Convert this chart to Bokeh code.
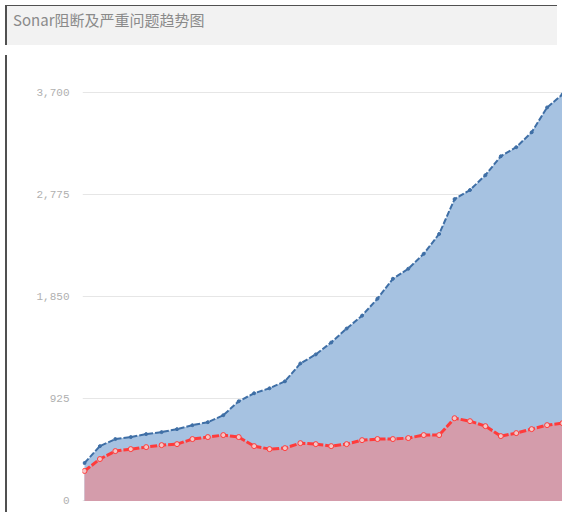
from bokeh.plotting import figure
from bokeh.models import Div, FixedTicker
from bokeh.layouts import column, row
from bokeh.embed import file_html
from bokeh.resources import INLINE

# ---- data ----
periods = list(range(32))
series_blue = [343, 496, 560, 578, 605, 623, 650, 686, 713, 776,
               902, 975, 1020, 1083, 1245, 1327, 1435, 1561, 1678, 1832,
               2012, 2103, 2238, 2418, 2734, 2816, 2951, 3122, 3204, 3339,
               3564, 3682]
series_red = [271, 379, 451, 469, 487, 505, 514, 560, 578, 596,
              578, 496, 469, 478, 523, 514, 496, 514, 550, 560,
              560, 569, 596, 596, 749, 722, 677, 587, 614, 650,
              686, 704]
y_ticks = [0, 925, 1850, 2775, 3700]
y_tick_labels = ["0", "925", "1,850", "2,775", "3,700"]
title_text = "Sonar阻断及严重问题趋势图"

title_bar = Div(
    text=title_text, width=552, height=40,
    styles={
        "background-color": "#f2f2f2",
        "color": "#8a8a8a",
        "font-size": "15px",
        "font-family": "Noto Sans CJK SC",
        "padding-left": "6px",
        "padding-top": "4px",
        "line-height": "20px",
        "box-sizing": "border-box",
        "border-top": "1px solid #505050",
        "border-left": "2px solid #505050",
    },
)

edge = Div(text="", width=2, height=457,
           styles={"background-color": "#505050"})

p = figure(width=550, height=457, x_range=(-0.13, 31.0), y_range=(-60, 4080),
           output_backend="svg", toolbar_location=None,
           min_border_left=70, min_border_right=0, min_border_top=0,
           min_border_bottom=0)
p.outline_line_color = None
p.xaxis.visible = False
p.xgrid.visible = False
p.ygrid.grid_line_color = "#e6e6e6"
p.ygrid.grid_line_width = 1
p.yaxis.ticker = FixedTicker(ticks=y_ticks)
p.yaxis.major_label_overrides = {t: l for t, l in zip(y_ticks, y_tick_labels)}
p.yaxis.axis_line_color = None
p.yaxis.major_tick_line_color = None
p.yaxis.minor_tick_line_color = None
p.yaxis.major_tick_out = 0
p.yaxis.major_tick_in = 0
p.yaxis.major_label_standoff = 13
p.yaxis.major_label_text_color = "#b0b0b0"
p.yaxis.major_label_text_font = "Liberation Mono"
p.yaxis.major_label_text_font_size = "11px"

p.varea(x=periods, y1=0, y2=series_blue, fill_color="#a6c2e1", fill_alpha=1)
p.varea(x=periods, y1=0, y2=series_red, fill_color="#d49cab", fill_alpha=1)
p.line(periods, series_blue, line_color="#3f6fa6", line_width=2, line_dash="6 2")
p.scatter(periods, series_blue, size=3, fill_color="#3f6fa6", line_color="#3f6fa6")
p.line(periods, series_red, line_color="#ff3b3b", line_width=3, line_dash="7 2")
p.scatter(periods, series_red, size=5, fill_color="#f4c6c6", line_color="#ff3b3b",
          line_width=1)

layout = column(title_bar, row(edge, p, spacing=0), spacing=0)

open("out.html", "w").write(file_html(layout, INLINE))
